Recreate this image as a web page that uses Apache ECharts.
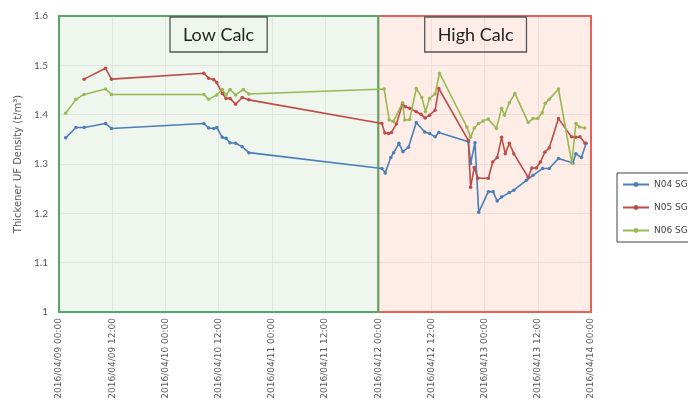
<!DOCTYPE html>
<html>
<head>
<meta charset="utf-8">
<script src="https://cdn.jsdelivr.net/npm/echarts@6/dist/echarts.min.js"></script>
<style>html,body{margin:0;padding:0;background:#fff}#c{width:688px;height:410px}</style>
</head>
<body>
<div id="c"></div>
<script>
// ---- data ----
const seriesNames = ['N04 SG', 'N05 SG', 'N06 SG'];

const n04Times = ['2016-04-09 01:30','2016-04-09 03:50','2016-04-09 05:40','2016-04-09 10:30','2016-04-09 11:50',
  '2016-04-10 08:40','2016-04-10 09:45','2016-04-10 10:55','2016-04-10 11:35','2016-04-10 12:50','2016-04-10 13:40',
  '2016-04-10 14:35','2016-04-10 15:50','2016-04-10 17:20','2016-04-10 18:50',
  '2016-04-12 00:50','2016-04-12 01:35','2016-04-12 02:50','2016-04-12 03:30','2016-04-12 04:40','2016-04-12 05:35',
  '2016-04-12 06:50','2016-04-12 08:35','2016-04-12 10:30','2016-04-12 11:35','2016-04-12 12:50','2016-04-12 13:40',
  '2016-04-12 20:20','2016-04-12 20:50','2016-04-12 21:50','2016-04-12 22:40',
  '2016-04-13 00:50','2016-04-13 01:55','2016-04-13 02:50','2016-04-13 03:50','2016-04-13 05:35','2016-04-13 06:35',
  '2016-04-13 09:25','2016-04-13 10:55','2016-04-13 13:05','2016-04-13 14:35','2016-04-13 16:40','2016-04-13 19:55',
  '2016-04-13 20:35','2016-04-13 21:50','2016-04-13 22:55'];
const n04Values = [1.353,1.374,1.374,1.382,1.372,
  1.382,1.373,1.372,1.374,1.354,1.352,
  1.343,1.342,1.335,1.323,
  1.291,1.282,1.313,1.323,1.342,1.325,
  1.334,1.384,1.365,1.362,1.355,1.364,
  1.345,1.301,1.343,1.202,
  1.244,1.244,1.225,1.233,1.242,1.247,
  1.267,1.277,1.291,1.291,1.311,1.302,
  1.321,1.313,1.342];

const n05Times = ['2016-04-09 05:40','2016-04-09 10:30','2016-04-09 11:50',
  '2016-04-10 08:40','2016-04-10 09:45','2016-04-10 10:55','2016-04-10 11:35','2016-04-10 12:50','2016-04-10 13:40',
  '2016-04-10 14:35','2016-04-10 15:50','2016-04-10 17:20','2016-04-10 18:50',
  '2016-04-12 00:50','2016-04-12 01:30','2016-04-12 02:20','2016-04-12 03:00','2016-04-12 04:05','2016-04-12 05:30',
  '2016-04-12 06:10','2016-04-12 07:05','2016-04-12 08:35','2016-04-12 09:40','2016-04-12 10:35','2016-04-12 11:35',
  '2016-04-12 12:50','2016-04-12 13:40',
  '2016-04-12 20:20','2016-04-12 20:50','2016-04-12 21:40','2016-04-12 22:30',
  '2016-04-13 00:50','2016-04-13 01:50','2016-04-13 02:50','2016-04-13 03:50','2016-04-13 04:40','2016-04-13 05:35',
  '2016-04-13 06:35','2016-04-13 09:50','2016-04-13 10:40','2016-04-13 11:40','2016-04-13 12:35','2016-04-13 13:35',
  '2016-04-13 14:35','2016-04-13 16:40','2016-04-13 19:35','2016-04-13 20:35','2016-04-13 21:30','2016-04-13 22:40'];
const n05Values = [1.472,1.494,1.472,
  1.484,1.474,1.471,1.465,1.443,1.433,
  1.433,1.421,1.435,1.430,
  1.382,1.363,1.362,1.364,1.381,1.422,
  1.416,1.413,1.406,1.401,1.393,1.399,
  1.409,1.453,
  1.348,1.253,1.293,1.271,
  1.271,1.304,1.313,1.354,1.321,1.342,
  1.321,1.273,1.292,1.292,1.304,1.324,
  1.333,1.392,1.355,1.354,1.355,1.342];

const n06Times = ['2016-04-09 01:30','2016-04-09 03:50','2016-04-09 05:40','2016-04-09 10:30','2016-04-09 11:50',
  '2016-04-10 08:40','2016-04-10 09:45','2016-04-10 11:35','2016-04-10 12:50','2016-04-10 13:40','2016-04-10 14:35',
  '2016-04-10 15:50','2016-04-10 17:35','2016-04-10 18:50',
  '2016-04-12 01:20','2016-04-12 02:30','2016-04-12 03:25','2016-04-12 05:30','2016-04-12 06:00','2016-04-12 07:05',
  '2016-04-12 08:35','2016-04-12 09:50','2016-04-12 10:40','2016-04-12 11:35','2016-04-12 12:50','2016-04-12 13:50',
  '2016-04-12 20:00','2016-04-12 20:50','2016-04-12 21:40','2016-04-12 22:40','2016-04-12 23:40',
  '2016-04-13 00:50','2016-04-13 02:40','2016-04-13 03:50','2016-04-13 04:30','2016-04-13 05:35','2016-04-13 06:50',
  '2016-04-13 09:50','2016-04-13 10:55','2016-04-13 12:00','2016-04-13 13:00','2016-04-13 13:40','2016-04-13 14:35',
  '2016-04-13 16:40','2016-04-13 19:40','2016-04-13 20:35','2016-04-13 21:25','2016-04-13 22:35'];
const n06Values = [1.403,1.431,1.441,1.452,1.441,
  1.441,1.431,1.440,1.451,1.440,1.451,
  1.440,1.451,1.442,
  1.452,1.389,1.386,1.424,1.389,1.390,
  1.453,1.435,1.406,1.433,1.442,1.484,
  1.375,1.354,1.373,1.382,1.387,
  1.391,1.372,1.413,1.399,1.424,1.443,
  1.384,1.392,1.392,1.404,1.423,1.431,
  1.452,1.302,1.382,1.375,1.373];

const axisStart = '2016-04-09 00:00';
const axisEnd = '2016-04-14 00:00';
const regionNames = ['Low Calc', 'High Calc'];
const regionStarts = ['2016-04-09 00:00', '2016-04-12 00:00'];
const regionEnds = ['2016-04-12 00:00', '2016-04-14 00:00'];
const yTicks = {min: 1, max: 1.6, step: 0.1};

// ---- helpers ----
function ms(s) {
  const [d, t] = s.split(' ');
  const [Y, M, D] = d.split('-').map(Number);
  const [h, m] = t.split(':').map(Number);
  return Date.UTC(Y, M - 1, D, h, m);
}
function pad(n) { return (n < 10 ? '0' : '') + n; }
function fmt(v) {
  const d = new Date(v);
  return d.getUTCFullYear() + '/' + pad(d.getUTCMonth() + 1) + '/' + pad(d.getUTCDate()) + ' ' +
    pad(d.getUTCHours()) + ':' + pad(d.getUTCMinutes());
}
function pairs(ts, vs) { return ts.map((t, i) => [ms(t), vs[i]]); }

const colors = ['#4A7EBB', '#BE4B48', '#98B954'];
const HALF_DAY = 12 * 3600 * 1000;

const chart = echarts.init(document.getElementById('c'), null, {renderer: 'canvas'});

const lineSeries = [[n04Times, n04Values], [n05Times, n05Values], [n06Times, n06Values]].map((p, i) => ({
  name: seriesNames[i],
  type: 'line',
  data: pairs(p[0], p[1]),
  symbol: 'circle',
  symbolSize: 3.5,
  lineStyle: {width: 1.6, color: colors[i]},
  itemStyle: {color: colors[i]},
  z: 5,
  animation: false
}));

// background regions (High first so the Low border sits on top at the shared edge)
lineSeries[0].markArea = {
  silent: true,
  z: 1,
  data: [
    [{name: regionNames[1], xAxis: ms(regionStarts[1]), yAxis: yTicks.min,
      itemStyle: {color: 'rgba(251,224,212,0.58)', borderColor: '#E4625A', borderWidth: 2},
      label: {offset: [-9, 0]}},
     {xAxis: ms(regionEnds[1]), yAxis: yTicks.max}],
    [{name: regionNames[0], xAxis: ms(regionStarts[0]), yAxis: yTicks.min,
      itemStyle: {color: 'rgba(226,238,222,0.55)', borderColor: '#55A867', borderWidth: 2}},
     {xAxis: ms(regionEnds[0]), yAxis: yTicks.max}]
  ],
  label: {
    show: true,
    position: 'insideTop',
    distance: 2,
    fontFamily: 'Lato',
    fontSize: 18,
    color: '#222',
    padding: [9, 13, 8, 13],
    borderColor: '#555',
    borderWidth: 1.3
  }
};

chart.setOption({
  animation: false,
  backgroundColor: '#fff',
  grid: {left: 59, right: 97, top: 16, bottom: 98, containLabel: false},
  legend: {
    orient: 'vertical',
    left: 617,
    top: 173,
    data: seriesNames,
    itemWidth: 26,
    itemHeight: 6,
    itemGap: 14,
    padding: [7, 40, 7, 5],
    borderColor: '#444',
    borderWidth: 1,
    textStyle: {fontSize: 9, color: '#444', fontFamily: 'DejaVu Sans'}
  },
  xAxis: {
    type: 'value',
    min: ms(axisStart),
    max: ms(axisEnd),
    interval: HALF_DAY,
    axisLine: {show: false},
    axisTick: {show: false},
    splitLine: {show: true, lineStyle: {color: '#d9d9d9', width: 1}},
    axisLabel: {
      rotate: 90,
      fontSize: 9,
      fontFamily: 'DejaVu Sans',
      color: '#595959',
      margin: 6,
      formatter: v => fmt(v)
    }
  },
  yAxis: {
    type: 'value',
    min: yTicks.min,
    max: yTicks.max,
    interval: yTicks.step,
    name: 'Thickener UF Density (t/m³)',
    nameLocation: 'middle',
    nameGap: 34,
    nameTextStyle: {fontSize: 10, color: '#595959', fontFamily: 'DejaVu Sans'},
    axisLine: {show: false},
    axisTick: {show: false},
    splitLine: {show: true, lineStyle: {color: '#d9d9d9', width: 1}},
    axisLabel: {fontSize: 10, color: '#595959', fontFamily: 'Lato', margin: 11,
      formatter: v => String(Math.round(v * 10) / 10)}
  },
  series: lineSeries
});
</script>
</body>
</html>
